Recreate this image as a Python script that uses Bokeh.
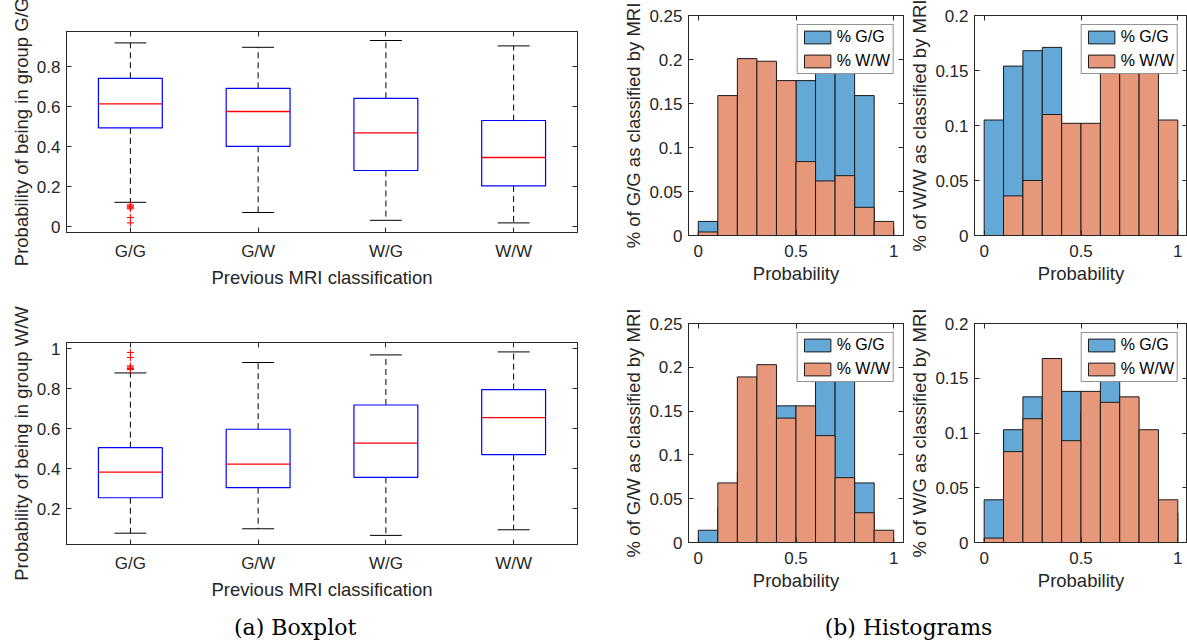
from bokeh.plotting import figure
from bokeh.layouts import column, row
from bokeh.models import (Range1d, FactorRange, LinearAxis, CategoricalAxis, FixedTicker,
                          NumeralTickFormatter, Legend, LegendItem, Label, ColumnDataSource)
from bokeh.transform import dodge
from bokeh.embed import file_html
from bokeh.resources import INLINE

# ---------------- data ----------------
categories = ["G/G", "G/W", "W/G", "W/W"]

# Boxplot: probability of being in group G/G
gg_low = [0.123, 0.072, 0.033, 0.020]
gg_q1 = [0.495, 0.403, 0.282, 0.205]
gg_med = [0.615, 0.577, 0.470, 0.347]
gg_q3 = [0.743, 0.693, 0.643, 0.532]
gg_high = [0.920, 0.898, 0.932, 0.905]
gg_out_cat = ["G/G", "G/G", "G/G", "G/G", "G/G", "G/G", "G/G"]
gg_out_val = [0.110, 0.105, 0.100, 0.095, 0.090, 0.047, 0.020]

# Boxplot: probability of being in group W/W
ww_low = [0.078, 0.100, 0.067, 0.095]
ww_q1 = [0.255, 0.305, 0.357, 0.470]
ww_med = [0.383, 0.423, 0.528, 0.655]
ww_q3 = [0.505, 0.597, 0.718, 0.795]
ww_high = [0.878, 0.930, 0.968, 0.983]
ww_out_cat = ["G/G", "G/G", "G/G", "G/G", "G/G", "G/G"]
ww_out_val = [0.980, 0.955, 0.913, 0.907, 0.900, 0.895]

# Histograms (10 bins on [0, 1])
bin_edges = [0.0, 0.1, 0.2, 0.3, 0.4, 0.5, 0.6, 0.7, 0.8, 0.9, 1.0]
# % of G/G as classified by MRI
h_gg_pgg = [0.016, 0.016, 0.032, 0.064, 0.080, 0.176, 0.220, 0.229, 0.159, 0.008]
h_gg_pww = [0.004, 0.159, 0.201, 0.198, 0.176, 0.084, 0.062, 0.068, 0.032, 0.016]
# % of W/W as classified by MRI
h_ww_pgg = [0.105, 0.154, 0.168, 0.171, 0.090, 0.080, 0.080, 0.070, 0.050, 0.032]
h_ww_pww = [0.000, 0.036, 0.050, 0.110, 0.102, 0.102, 0.160, 0.170, 0.166, 0.105]
# % of G/W as classified by MRI
h_gw_pgg = [0.014, 0.040, 0.080, 0.100, 0.156, 0.120, 0.230, 0.189, 0.068, 0.004]
h_gw_pww = [0.000, 0.068, 0.189, 0.203, 0.142, 0.156, 0.122, 0.074, 0.034, 0.014]
# % of W/G as classified by MRI
h_wg_pgg = [0.039, 0.103, 0.133, 0.120, 0.138, 0.120, 0.170, 0.090, 0.060, 0.027]
h_wg_pww = [0.004, 0.083, 0.113, 0.168, 0.093, 0.138, 0.128, 0.133, 0.103, 0.039]

# ---------------- styles ----------------
FONT = "Liberation Sans"
AX = "#262626"
BLUE = "#63A8D6"
ORANGE = "#E8987A"


def style_axis(ax, vertical=False):
    ax.major_tick_in = 5
    ax.major_tick_out = 0
    ax.minor_tick_line_color = None
    ax.axis_line_color = AX
    ax.major_tick_line_color = AX
    ax.major_label_text_font = FONT
    ax.major_label_text_font_size = "17px"
    ax.major_label_text_color = AX
    ax.axis_label_text_font = FONT
    ax.axis_label_text_font_size = "18.5px"
    ax.axis_label_text_font_style = "normal"
    ax.axis_label_text_color = AX
    ax.axis_label_standoff = 2 if vertical else 3
    ax.major_label_standoff = 6 if vertical else 9


def mirror_axis(ax, ticks):
    style_axis(ax)
    ax.major_label_overrides = {t: "" for t in ticks}
    ax.major_label_text_color = None
    ax.major_label_standoff = 0
    ax.axis_label = None


def boxplot(low, q1, med, q3, high, out_cat, out_val, yr, yticks, ylabel, h, bt, bb):
    p = figure(width=620, height=h, x_range=FactorRange(factors=categories),
               y_range=Range1d(*yr), output_backend="svg", toolbar_location=None,
               min_border_left=66, min_border_right=43, min_border_top=bt, min_border_bottom=bb)
    p.grid.visible = False
    p.outline_line_color = AX
    src = ColumnDataSource(dict(cat=categories, low=low, q1=q1, med=med, q3=q3, high=high))
    # whiskers
    p.segment(x0="cat", y0="q3", x1="cat", y1="high", source=src, line_color="black",
              line_width=1, line_dash="6 4")
    p.segment(x0="cat", y0="q1", x1="cat", y1="low", source=src, line_color="black",
              line_width=1, line_dash="6 4")
    # caps
    p.segment(x0=dodge("cat", -0.125, range=p.x_range), y0="high",
              x1=dodge("cat", 0.125, range=p.x_range), y1="high", source=src,
              line_color="black", line_width=1)
    p.segment(x0=dodge("cat", -0.125, range=p.x_range), y0="low",
              x1=dodge("cat", 0.125, range=p.x_range), y1="low", source=src,
              line_color="black", line_width=1)
    # boxes
    p.vbar(x="cat", width=0.5, bottom="q1", top="q3", source=src, fill_color=None,
           line_color="#0000FF", line_width=1.2)
    # medians
    p.segment(x0=dodge("cat", -0.25, range=p.x_range), y0="med",
              x1=dodge("cat", 0.25, range=p.x_range), y1="med", source=src,
              line_color="#FF0000", line_width=1.3)
    # outliers
    p.scatter(x=out_cat, y=out_val, marker="cross", size=7, line_color="#FF0000", line_width=1)

    p.xaxis.axis_label = "Previous MRI classification"
    p.yaxis.axis_label = ylabel
    p.yaxis.ticker = FixedTicker(ticks=yticks)
    p.yaxis.formatter = NumeralTickFormatter(format="0.[00]")
    for ax in p.xaxis:
        style_axis(ax)
    for ax in p.yaxis:
        style_axis(ax, vertical=True)
    top = CategoricalAxis()
    mirror_axis(top, categories)
    p.add_layout(top, "above")
    right = LinearAxis(ticker=FixedTicker(ticks=yticks))
    mirror_axis(right, yticks)
    p.add_layout(right, "right")
    return p


def hist(pgg, pww, ymax, yticks, ylabel, w, h, bl, fw, br, bt, bb):
    p = figure(width=w, height=h, x_range=Range1d(-0.05, 1.05), y_range=Range1d(0, ymax),
               output_backend="svg", toolbar_location=None,
               min_border_left=bl, min_border_right=br, min_border_top=bt, min_border_bottom=bb)
    p.grid.visible = False
    p.outline_line_color = AX
    left = bin_edges[:-1]
    right = bin_edges[1:]
    r1 = p.quad(left=left, right=right, bottom=0, top=pgg, fill_color=BLUE,
                line_color="#1a1a1a", line_width=1)
    r2 = p.quad(left=left, right=right, bottom=0, top=pww, fill_color=ORANGE,
                line_color="#1a1a1a", line_width=1)
    xt = [0, 0.5, 1]
    p.xaxis.axis_label = "Probability"
    p.yaxis.axis_label = ylabel
    p.xaxis.ticker = FixedTicker(ticks=xt)
    p.xaxis.formatter = NumeralTickFormatter(format="0.[0]")
    p.yaxis.ticker = FixedTicker(ticks=yticks)
    p.yaxis.formatter = NumeralTickFormatter(format="0.[00]")
    for ax in p.xaxis:
        style_axis(ax)
    for ax in p.yaxis:
        style_axis(ax, vertical=True)
    top = LinearAxis(ticker=FixedTicker(ticks=xt))
    mirror_axis(top, xt)
    p.add_layout(top, "above")
    rax = LinearAxis(ticker=FixedTicker(ticks=yticks))
    mirror_axis(rax, yticks)
    p.add_layout(rax, "right")
    leg = Legend(items=[LegendItem(label="% G/G", renderers=[r1]),
                        LegendItem(label="% W/W", renderers=[r2])],
                 location="top_right", margin=9, padding=3, spacing=6,
                 glyph_width=33, glyph_height=16, label_height=16, label_standoff=3,
                 label_text_font=FONT, label_text_font_size="16px", label_text_color="black",
                 border_line_color=AX, border_line_width=1, background_fill_alpha=1)
    p.add_layout(leg)
    return p


yt_box_top = [0, 0.2, 0.4, 0.6, 0.8]
yt_box_bot = [0.2, 0.4, 0.6, 0.8, 1.0]
yt_h25 = [0, 0.05, 0.1, 0.15, 0.2, 0.25]
yt_h20 = [0, 0.05, 0.1, 0.15, 0.2]

b1 = boxplot(gg_low, gg_q1, gg_med, gg_q3, gg_high, gg_out_cat, gg_out_val,
             (-0.028, 0.977), yt_box_top, "Probability of being in group G/G", 300, 31, 68)
b2 = boxplot(ww_low, ww_q1, ww_med, ww_q3, ww_high, ww_out_cat, ww_out_val,
             (0.0215, 1.03), yt_box_bot, "Probability of being in group W/W", 305, 42, 61)

h1 = hist(h_gg_pgg, h_gg_pww, 0.25, yt_h25, "% of G/G as classified by MRI",
          286, 300, 66, 217, 3, 15, 65)
h2 = hist(h_ww_pgg, h_ww_pww, 0.2, yt_h20, "% of W/W as classified by MRI",
          281, 300, 65, 216, 0, 15, 65)
h3 = hist(h_gw_pgg, h_gw_pww, 0.25, yt_h25, "% of G/W as classified by MRI",
          286, 305, 66, 217, 3, 23, 63)
h4 = hist(h_wg_pgg, h_wg_pww, 0.2, yt_h20, "% of W/G as classified by MRI",
          281, 305, 65, 216, 0, 23, 63)


def caption(text, w, cx):
    c = figure(width=w, height=37, x_range=Range1d(0, w), y_range=Range1d(0, 37),
               x_axis_type=None, y_axis_type=None, output_backend="svg",
               toolbar_location=None, min_border=0, outline_line_color=None)
    c.grid.visible = False
    c.add_layout(Label(x=cx, y=15, x_units="screen", y_units="screen", text=text,
                       text_align="center", text_baseline="alphabetic",
                       text_font="DejaVu Serif", text_font_size="22px", text_color="black"))
    return c


capA = caption("(a) Boxplot", 620, 294.6)
capB = caption("(b) Histograms", 567, 288)

layout = column(row(column(b1, b2), column(row(h1, h2), row(h3, h4))), row(capA, capB))
open("out.html", "w").write(file_html(layout, INLINE))
